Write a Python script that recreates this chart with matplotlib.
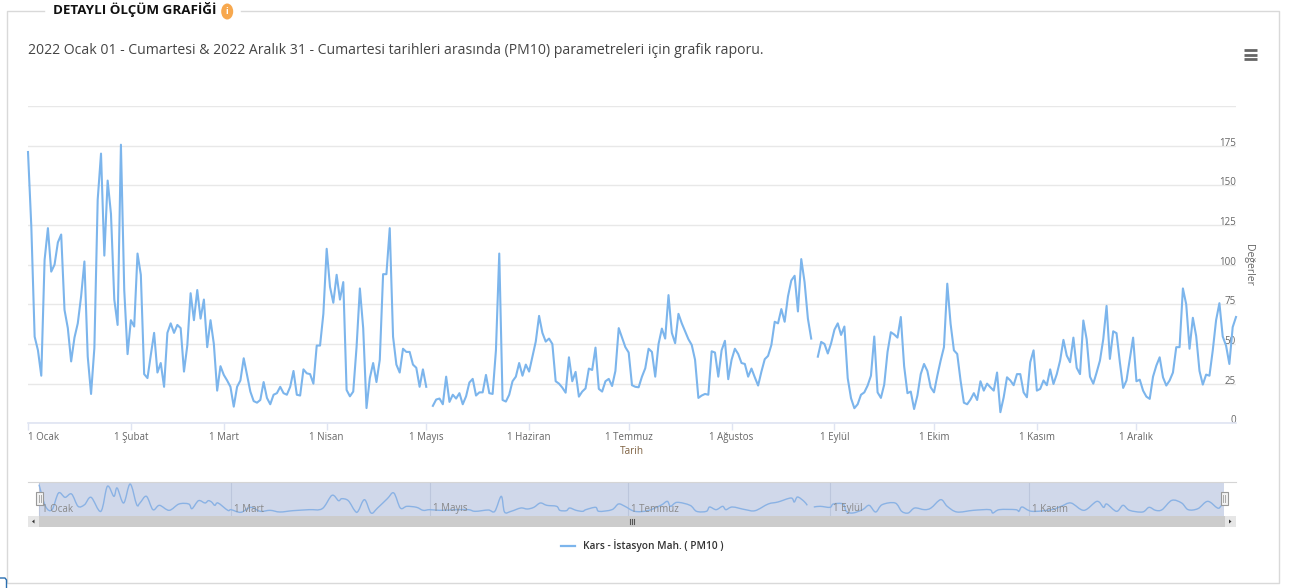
import numpy as np
import pandas as pd
import matplotlib
matplotlib.use('Agg')
import matplotlib.pyplot as plt
from matplotlib.patches import Rectangle, Ellipse, PathPatch
from matplotlib.path import Path

plt.rcParams['font.family'] = ['Open Sans', 'DejaVu Sans']

W, H = 1293, 588

# daily PM10 values, nan where the line has a gap
pm10 = [171, 124, 54.6, 46, 30, 103, 123, 95.6, 100, 114, 119, 71.5, 60, 39, 54, 63, 80, 102, 42, 18.5,
        47.5, 141, 170, 105.7, 153, 132, 78, 62, 175.6, 84, 43.6, 65, 61, 107, 93.6, 31, 28.5, 43, 57, 32,
        38, 23, 57, 63, 57, 62, 60, 32.6, 49, 82, 65, 84, 66, 78, 48, 65, 50, 20.6, 36, 30.5,
        27, 23, 10.5, 23, 27, 41, 30.5, 20, 14, 13, 14.7, 26, 16, 12, 18, 19, 23, 19, 18, 23,
        33, 18, 17.5, 34, 31.5, 31, 25, 49, 49, 69, 110, 86, 76, 93.6, 78, 89, 21, 17, 20, 48,
        85, 60, 9.6, 28.5, 38, 26, 40, 94, 94, 123, 54.6, 37, 32, 47, 45, 45, 37, 35, 23, 34,
        23, np.nan, 11, 15, 15.6, 12, 29.4, 13.5, 18, 15.6, 19, 12, 17, 25.7, 28, 17.5, 19.5, 19.5, 30.5, 19,
        18.5, 46, 107, 14.7, 13.7, 18, 26.5, 29.4, 38, 30, 37, 32.6, 42, 51.5, 67.7, 57, 51.5, 53.4, 50, 26.5,
        25, 22.5, 19.3, 41.6, 26.5, 32.4, 16.8, 20, 22, 34.5, 33.6, 47.7, 21.7, 20, 26.5, 28, 23.5, 33, 60, 54,
        48, 44.6, 24, 23, 22.7, 29.4, 34.7, 47, 45, 29.4, 50, 59.7, 53.4, 80.8, 57, 50.5, 69, 63, 58, 53,
        49.4, 40, 16, 17.5, 18.5, 18, 45.4, 44.6, 29.4, 46, 52, 27.8, 40, 47, 43.7, 38, 37.4, 29.4, 34.5, 29,
        23.8, 32.6, 40.4, 42.5, 49.4, 64, 63, 72, 64, 80, 90, 93, 70.5, 103.5, 89, 66, 53.4, np.nan, 42, 51.3,
        50, 44, 50.5, 59, 63, 55.7, 61, 28.4, 15.8, 9.5, 12, 18, 19.5, 23.8, 30, 54.7, 19.5, 16, 24.4, 45,
        57.4, 56, 54, 67, 36, 19, 20, 9, 17.5, 31, 37.4, 33, 22.7, 19.5, 30, 39.5, 48, 88, 62.7, 46,
        43.7, 27, 13, 12, 15, 19, 14.7, 26.5, 20.6, 25, 22.7, 20.6, 32, 7, 16.4, 29, 27, 24, 31, 31,
        19.5, 16.4, 38.5, 46, 20.6, 21.7, 27, 24, 34, 24.8, 31, 39.5, 52.6, 42.7, 38.5, 54, 35, 31, 64.8, 53,
        29.4, 25, 32, 39.5, 53, 74, 40.6, 58, 56.8, 38.5, 22.3, 27, 40.6, 54, 26.5, 27.5, 20.6, 16.8, 15.4, 29.4,
        36.4, 41.6, 29, 23.8, 27, 32, 48, 48, 85, 75, 47, 66.5, 55, 33, 24.4, 30.7, 30, 46, 65, 75.7,
        54.7, 49, 37.4, 60.6, 67]

# navigator line: day of the year and value
nav_days_a = [0, 2, 4, 6, 8, 10, 12, 14, 16, 19, 21, 23, 24, 26, 28, 30, 31, 33, 35, 37, 40, 43, 46, 47, 49, 51, 52, 53,
              54, 55, 58, 59, 62, 65, 68, 71, 74, 78, 83, 87, 90, 92, 93, 95, 97, 98, 100, 102, 104, 107, 109, 111,
              113, 116, 118, 120, 123, 126, 129, 132, 134, 138, 140, 142, 143, 145, 148, 150, 152, 154, 156, 159,
              160, 162, 163, 165, 167, 168, 171, 172, 176, 178, 180, 183, 187, 191, 193, 194, 196, 200, 202, 205,
              206, 208, 210, 211, 213, 217, 220, 224, 227, 231, 232, 233, 235, 236]
nav_vals_a = [170, 40, 20, 120, 94, 114, 40, 50, 94, 10, 160, 100, 150, 60, 174, 50, 60, 100, 20, 46, 16, 54, 54, 26, 74,
              60, 74, 66, 46, 60, 16, 20, 4, 34, 10, 16, 6, 14, 20, 26, 106, 74, 86, 74, 14, 10, 80, 0, 30, 86, 120,
              30, 40, 34, 16, 20, 16, 18, 20, 20, 10, 18, 10, 100, 6, 10, 30, 24, 34, 60, 46, 40, 16, 14, 30, 16, 10,
              20, 34, 10, 20, 54, 40, 10, 14, 46, 70, 40, 64, 46, 10, 10, 36, 20, 40, 20, 36, 20, 14, 54, 66, 90, 66,
              96, 70, 46]
nav_days_b = [238, 240, 243, 244, 247, 248, 250, 253, 255, 257, 259, 263, 265, 267, 269, 272, 274, 277, 279, 282, 287,
              292, 293, 295, 300, 301, 302, 305, 311, 314, 317, 321, 325, 327, 328, 331, 333, 335, 339, 341, 343,
              345, 348, 351, 353, 356, 359, 362, 363, 364]
nav_vals_b = [36, 40, 34, 54, 54, 10, 0, 20, 46, 6, 50, 60, 10, 0, 30, 20, 30, 80, 40, 6, 16, 20, 0, 20, 20, 10, 36, 10,
              20, 40, 60, 16, 70, 34, 54, 10, 46, 16, 6, 34, 16, 20, 76, 60, 20, 26, 70, 30, 40, 70]

y_ticks = [0, 25, 50, 75, 100, 125, 150, 175, 200]
y_labels = ['0', '25', '50', '75', '100', '125', '150', '175', '']
months = ['1 Ocak', '1 Şubat', '1 Mart', '1 Nisan', '1 Mayıs', '1 Haziran', '1 Temmuz', '1 Ağustos', '1 Eylül',
          '1 Ekim', '1 Kasım', '1 Aralık']
nav_months = ['1 Ocak', '1 Mart', '1 Mayıs', '1 Temmuz', '1 Eylül', '1 Kasım']

dates = pd.date_range('2022-01-01', periods=365)
month_starts = pd.date_range('2022-01-01', periods=12, freq='MS')
line_col = '#7cb5ec'


def px_axes(x0, y0, x1, y1):
    # axes placed by picture pixels, y counted from the top
    return fig.add_axes([x0 / W, 1 - y1 / H, (x1 - x0) / W, (y1 - y0) / H])


def spline_path(xs, ys):
    # the navigator draws a spline through its points, so use bezier segments
    p = np.column_stack([xs, ys]).astype(float)
    tang = np.gradient(p, axis=0) / 3
    verts, codes = [p[0]], [Path.MOVETO]
    for i in range(len(p) - 1):
        verts += [p[i] + tang[i], p[i + 1] - tang[i + 1], p[i + 1]]
        codes += [Path.CURVE4] * 3
    return Path(verts, codes)


fig = plt.figure(figsize=(W / 100, H / 100), dpi=100)

# page furniture, in pixel coordinates
bg = fig.add_axes([0, 0, 1, 1])
bg.set_xlim(0, W)
bg.set_ylim(H, 0)
bg.axis('off')
box = '#d9d9d9'
bg.plot([44, 7, 7, 1279, 1279, 241], [11, 11, 583, 583, 11, 11], color=box, lw=1)
bg.text(53, 9.5, 'DETAYLI ÖLÇÜM GRAFİĞİ', fontsize=9.6, fontweight='bold', color='#111111', va='center', ha='left')
bg.add_patch(Ellipse((227.2, 11.5), 12, 16, color='#f7a84e', lw=0))
bg.text(227.2, 11.5, 'i', fontsize=6.5, fontweight='bold', color='white', ha='center', va='center')
bg.text(28, 50.5, '2022 Ocak 01 - Cumartesi & 2022 Aralık 31 - Cumartesi tarihleri arasında (PM10) parametreleri için '
        'grafik raporu.', fontsize=10.05, color='#444444', va='center', ha='left')
for yy in [49.5, 54.5, 59]:
    bg.plot([1243.5, 1256.5], [yy, yy], color='#666666', lw=2, solid_capstyle='butt')
bg.plot([0, 5, 6.5, 6.5], [578, 578, 580, 588], color='#2a6fb0', lw=1)
bg.text(632, 451, 'Tarih', fontsize=7.2, color='#7f6242', ha='center', va='center')
bg.text(1249, 265, 'Değerler', fontsize=7.5, color='#666666', rotation=270, ha='center', va='center')
bg.plot([561, 575], [545.5, 545.5], color=line_col, lw=1.6)
bg.text(583, 545.5, 'Kars - İstasyon Mah. ( PM10 )', fontsize=7.3, fontweight='semibold', color='#333333',
        ha='left', va='center')

# main chart
ax = px_axes(28, 106, 1236, 423.3)
ax.patch.set_alpha(0)
ax.plot(dates, pm10, color=line_col, lw=1.5, solid_joinstyle='round', zorder=3, clip_on=False)
ax.set_xlim(dates[0], dates[-1])
ax.set_ylim(0, 200)
for s in ['top', 'left', 'right']:
    ax.spines[s].set_visible(False)
ax.spines['bottom'].set_color('#dfe4f2')
ax.spines['bottom'].set_linewidth(1.2)
ax.yaxis.tick_right()
ax.set_yticks(y_ticks)
ax.set_yticklabels(y_labels, fontsize=7, color='#666666', ha='right', va='baseline')
ax.tick_params(axis='y', length=0, pad=0)
ax.set_xticks(month_starts)
ax.set_xticklabels(months, fontsize=7, color='#666666')
ax.get_xticklabels()[0].set_ha('left')
ax.tick_params(axis='x', length=5, width=1, color='#dfe4f2', pad=1)
ax.grid(axis='y', color='#e8e8e8', lw=1)
ax.set_axisbelow(True)

# navigator
nav = px_axes(28, 482, 1236, 516)
nav.set_xlim(-3.38, 367.7)
nav.set_ylim(-18, 186)
nav.axvspan(0, 364, color='#d0d8ea', lw=0, zorder=0)
nav.add_patch(PathPatch(spline_path(nav_days_a, nav_vals_a), fc='none', ec='#8ab2e4', lw=1, zorder=2))
nav.add_patch(PathPatch(spline_path(nav_days_b, nav_vals_b), fc='none', ec='#8ab2e4', lw=1, zorder=2))
nav_pos = [(month_starts[i] - dates[0]).days for i in range(0, 12, 2)]
nav.set_xticks(nav_pos)
nav.set_xticklabels([])
nav.tick_params(axis='x', length=0)
nav.set_yticks([])
nav.grid(axis='x', color='#bcc6dc', lw=0.8)
nav.set_axisbelow(True)
for pos, lab in zip(nav_pos, nav_months):
    nav.annotate(lab, (pos, 0), xycoords=nav.get_xaxis_transform(), xytext=(3, 7), textcoords='offset pixels',
                 fontsize=7, color='#888888', ha='left', va='center', zorder=5)
for s in ['left', 'right', 'bottom']:
    nav.spines[s].set_visible(False)
nav.spines['top'].set_color('#d5d5d5')

# scrollbar and handles on top of everything
top = fig.add_axes([0, 0, 1, 1])
top.set_xlim(0, W)
top.set_ylim(H, 0)
top.axis('off')
top.patch.set_alpha(0)
top.add_patch(Rectangle((28, 515.5), 1208, 11.5, color='#cccccc', lw=0))
top.add_patch(Rectangle((28, 515.5), 11, 11.5, color='#e6e6e6', lw=0))
top.add_patch(Rectangle((1224.5, 515.5), 11.5, 11.5, color='#e6e6e6', lw=0))
top.fill([34.5, 34.5, 32], [519.5, 523.5, 521.5], color='#333333', lw=0)
top.fill([1229, 1229, 1231.5], [519.5, 523.5, 521.5], color='#333333', lw=0)
for xx in [629.5, 631.5, 633.5]:
    top.plot([xx, xx], [518.5, 523.5], color='#555555', lw=0.8)
for xh in [39.5, 1224]:
    top.add_patch(Rectangle((xh - 3.5, 492), 7, 13, fc='#f2f2f2', ec='#999999', lw=0.8))
    for dx in [-1, 1]:
        top.plot([xh + dx, xh + dx], [495, 502], color='#aaaaaa', lw=0.7)

fig.savefig('out.png', dpi=100)
